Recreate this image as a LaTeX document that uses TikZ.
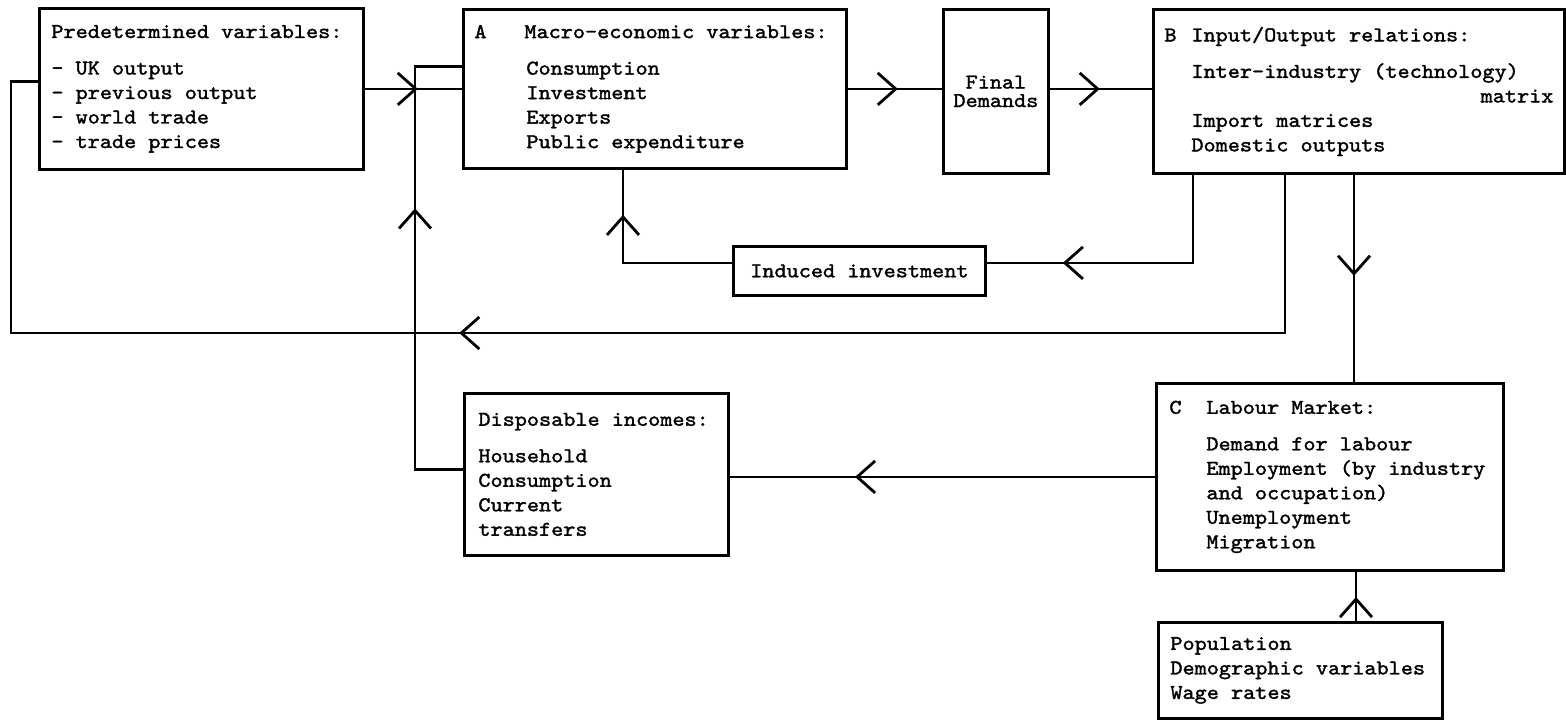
\documentclass[tikz,border=0pt]{standalone}
\usepackage{fontspec}
\setmonofont{lmmono10-regular}[Extension=.otf,FakeStretch=1.1,FakeBold=1.6]
\usetikzlibrary{arrows.meta,calc,decorations.markings}
\tikzset{
  >={Straight Barb[length=9pt,width=16pt]},
  blk/.style={draw,line width=1.4pt,anchor=north west,align=left,
    inner xsep=6pt,inner ysep=0pt,
    font=\ttfamily\fontsize{10.5}{12.25}\selectfont,
    execute at begin node={\spaceskip=0pt\xspaceskip=0pt}},
  link/.style={line width=1.4pt},
  arrowat/.style={link,postaction={decorate},
    decoration={markings,mark=at position #1 with {\arrow{>}}}}
}
\begin{document}
\begin{tikzpicture}[x=0.5pt,y=-0.5pt]
  \useasboundingbox (0,0) rectangle (1566,719);
  %--- Boxes placed to mimic the scan ----------------------------------------
  \node[blk,text width=150pt,minimum height=80.5pt] (P) at (38,7)
    {Predetermined variables:\\[6pt]
     - UK output\\- previous output\\- world trade\\- trade prices};
  \node[blk,inner xsep=5.5pt,text width=180.5pt,minimum height=79.5pt] (A) at (462,8)
    {\makebox[25pt][l]{A}Macro-economic variables:\\[6pt]
     \hspace*{26pt}Consumption\\\hspace*{26pt}Investment\\
     \hspace*{26pt}Exports\\\hspace*{26pt}Public expenditure};
  \node[blk,align=center,inner xsep=4pt,text width=44.5pt,minimum height=82pt] (FD) at (942,8)
    {Final\\[-3pt]Demands};
  \node[blk,inner xsep=5.5pt,text width=194.5pt,minimum height=82pt] (B) at (1152,8)
    {\makebox[13.5pt][l]{B}Input/Output relations:\\[6pt]
     \hspace*{13.5pt}Inter-industry (technology)\\\mbox{}\hfill matrix\\
     \hspace*{13.5pt}Import matrices\\\hspace*{13.5pt}Domestic outputs};
  \node[blk,align=center,inner xsep=4pt,text width=118pt,minimum height=24.5pt] (I) at (732,245)
    {Induced investment};
  \node[blk,inner xsep=7pt,text width=118pt,minimum height=81pt] (D) at (463,392)
    {Disposable incomes:\\[6pt]
     Household\\Consumption\\Current\\transfers};
  \node[blk,inner xsep=6.5pt,text width=160.5pt,minimum height=93.5pt] (C) at (1155,382)
    {\makebox[18.5pt][l]{C}Labour Market:\\[6pt]
     \hspace*{18.5pt}Demand for labour\\\hspace*{18.5pt}Employment (by industry\\
     \hspace*{18.5pt}and occupation)\\\hspace*{18.5pt}Unemployment\\
     \hspace*{18.5pt}Migration};
  \node[blk,inner xsep=6pt,text width=130pt,minimum height=48pt] (Pop) at (1157,621)
    {Population\\Demographic variables\\Wage rates};

  %--- Tap points under B and above the population box -------------------------
  \coordinate (Bi) at ($(B.south west)+(41,0)$);
  \coordinate (Bo) at ($(B.south west)+(133,0)$);
  \coordinate (Bc) at ($(B.south west)+(202,0)$);
  \coordinate (loopL) at (11,333);
  \coordinate (Pn) at ($(Pop.north west)+(199,0)$);

  %--- Top row -----------------------------------------------------------------
  \draw[arrowat=26.5pt] (P.east) -- (P.east -| A.west);
  \draw[arrowat=25pt] (A.east) -- (A.east -| FD.west);
  \draw[arrowat=25pt] ($(FD.east)+(0,-2.5)$) -- ($(FD.east -| B.west)+(0,-2.5)$);

  %--- Feedback loops ----------------------------------------------------------
  \draw[arrowat=-38pt] (Bi) |- ($(I.east)+(0,-8)$);
  \draw[arrowat=-22.5pt] ($(I.west)+(0,-8)$) -| ($(A.south west)+(161,0)$);
  \draw[arrowat=492pt] (Bo) |- (loopL) |- ($(P.west)+(0,-7.5)$);
  \draw[arrowat=154.5pt] ($(D.west)+(0,-5)$) -- ++(-48,0) |- ($(A.west)+(0,-22.5)$);

  %--- Labour market -----------------------------------------------------------
  \draw[arrowat=50.5pt] (Bc) -- (Bc |- C.north);
  \draw[arrowat=150pt] (C.west) -- (C.west -| D.east);
  \draw[arrowat=12pt] (Pn) -- (Pn |- C.south);

\end{tikzpicture}
\end{document}
